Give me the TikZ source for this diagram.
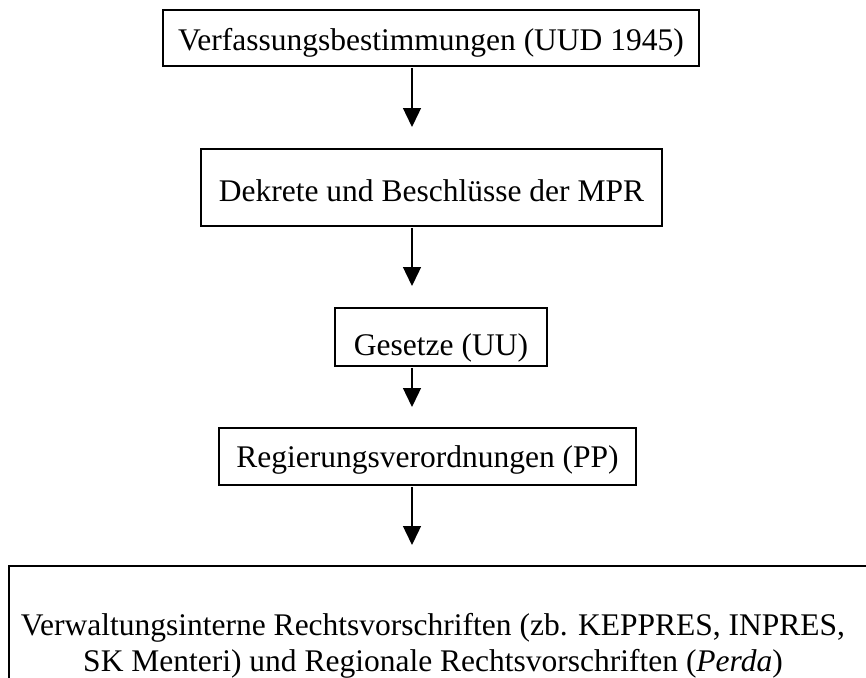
\documentclass[tikz,border=0pt]{standalone}
\usepackage{fontspec}
\setmainfont{Liberation Serif}
\usetikzlibrary{arrows.meta}
\begin{document}
\begin{tikzpicture}[x=1pt,y=-1pt,
  every node/.style={font=\fontsize{31.5}{36}\selectfont, inner sep=0pt},
  stepbox/.style={draw, line width=1.5pt, rectangle},
  flow/.style={line width=1.4pt, -{Triangle[width=18pt,length=19pt]}, shorten <=1pt}]
\useasboundingbox (0,0) rectangle (866,677);
\node[stepbox, minimum width=536pt, minimum height=56pt, text height=24pt, text depth=0pt] (b1) at (431,38) {Verfassungsbestimmungen (UUD 1945)};
\node[stepbox, minimum width=461pt, minimum height=77pt, text height=27pt, text depth=0pt] (b2) at (431.5,187.5) {Dekrete und Beschlüsse der MPR};
\node[stepbox, minimum width=212pt, minimum height=58pt, text height=36pt, text depth=0pt] (b3) at (441,337) {Gesetze (UU)};
\node[stepbox, minimum width=417pt, minimum height=57pt, text height=21pt, text depth=0pt] (b4) at (427.5,456.5) {Regierungsverordnungen (PP)};
\node[align=center] (b5) at (433,646) {Verwaltungsinterne Rechtsvorschriften (zb. KEPPRES, INPRES,\\ SK Menteri) und Regionale Rechtsvorschriften (\textit{Perda})};
\draw[line width=1.5pt] (9,700) |- (880,566);
\coordinate (t1) at (412,127);
\coordinate (t2) at (412,286);
\coordinate (t3) at (412,407);
\coordinate (t4) at (412,545);
\draw[flow] (b1.south -| t1) -- (t1);
\draw[flow] (b2.south -| t2) -- (t2);
\draw[flow] (b3.south -| t3) -- (t3);
\draw[flow] (b4.south -| t4) -- (t4);
\end{tikzpicture}
\end{document}
